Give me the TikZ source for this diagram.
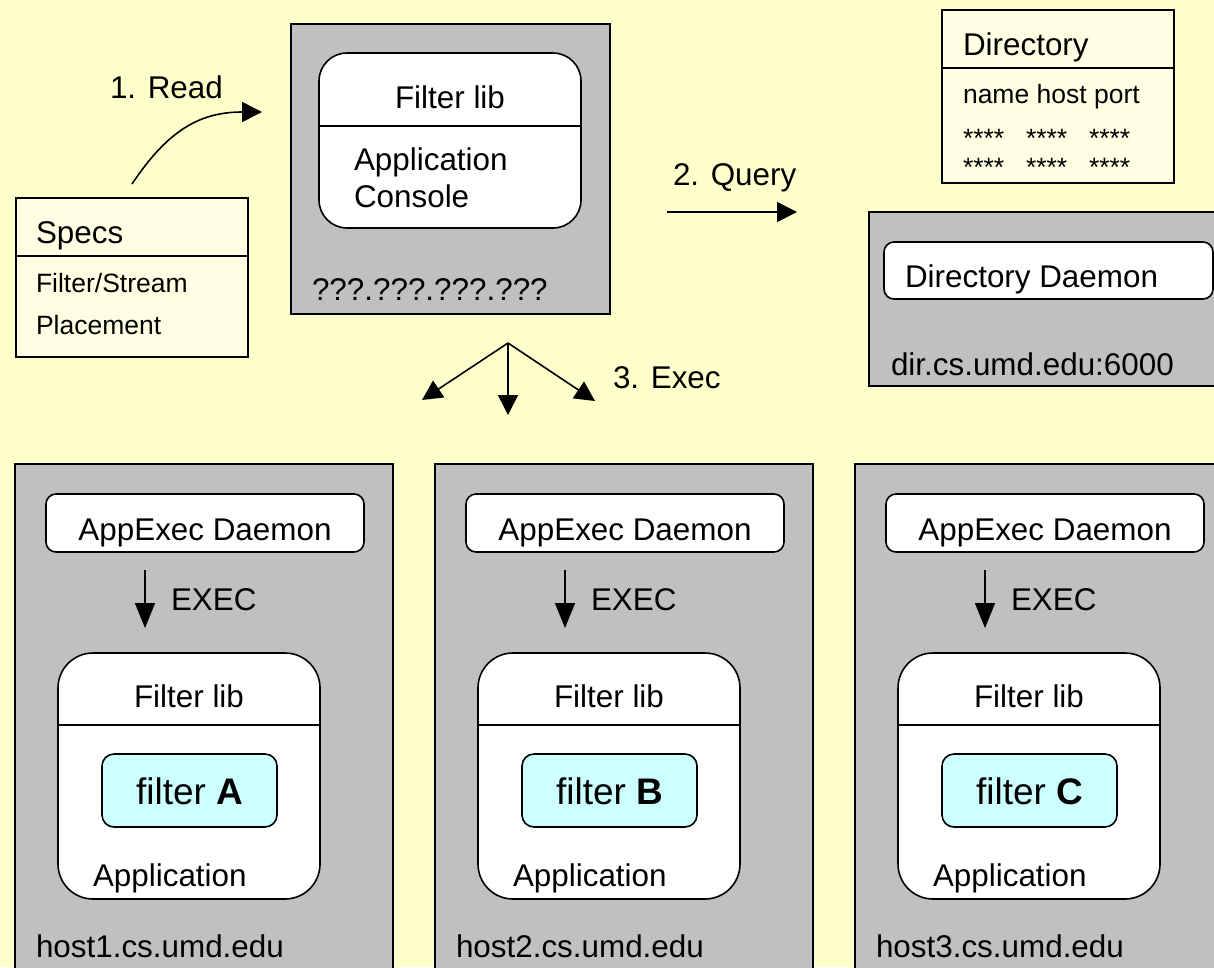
\documentclass[tikz,border=0pt]{standalone}
\usepackage{fontspec}
\setmainfont{Liberation Sans}
\usetikzlibrary{arrows.meta,calc}
\definecolor{paper}{HTML}{FFFFCC}
\definecolor{machine}{HTML}{C0C0C0}
\definecolor{sheet}{HTML}{FFFFE4}
\definecolor{filt}{HTML}{CCFFFF}
\tikzset{
  frame/.style={draw=black, line width=1.6pt, inner sep=0pt, outer sep=0pt, anchor=north west},
  hostbox/.style={frame, fill=machine},
  docbox/.style={frame, fill=sheet},
  softbox/.style={frame, fill=white, rounded corners=#1},
  softbox/.default=10pt,
  divider/.style={draw=black, line width=1.6pt},
  txt/.style={inner sep=0pt, outer sep=0pt, font=\fontsize{31.4}{37}\selectfont},
  small/.style={inner sep=0pt, outer sep=0pt, font=\fontsize{26.5}{30}\selectfont},
  big/.style={inner sep=0pt, outer sep=0pt, font=\fontsize{37}{42}\selectfont},
  arr/.style={line width=1.6pt, -{Triangle[length=20pt,width=20pt]}},
}
\begin{document}
\begin{tikzpicture}[x=1pt,y=-1pt]
\useasboundingbox (0,0) rectangle (1214,967);
\clip (0,0) rectangle (1214,967);
\fill[paper] (0,0) rectangle (1214,967);

% specification sheet
\node[docbox, minimum width=232, minimum height=159] (specs) at (16,198) {};
\draw[divider] ($(specs.north west)+(0,58)$) -- ($(specs.north east)+(0,58)$);
\node[txt, anchor=base west] (specstitle) at (36,243) {Specs};
\node[small, anchor=base west] (specsrow1) at (36,292) {Filter/Stream};
\node[small, anchor=base west] (specsrow2) at (36,334) {Placement};

% console machine
\node[hostbox, minimum width=319, minimum height=290] (console) at (291,24) {};
\node[softbox=28pt, minimum width=262, minimum height=175] (consolelib) at (319,53) {};
\draw[divider] ($(consolelib.north west)+(0,73)$) -- ($(consolelib.north east)+(0,73)$);
\node[txt, anchor=base] (consolelibtitle) at (450,108) {Filter lib};
\node[txt, anchor=base west] (consoleapp1) at (354,170) {Application};
\node[txt, anchor=base west] (consoleapp2) at (354,207) {Console};
\node[txt, anchor=base west] (consoleaddr) at (312,300) {???.???.???.???};

% step 1: read
\coordinate (readA) at (132,184);
\coordinate (readB) at (262,112);
\draw[arr] (readA) .. controls (168,130) and (200,112) .. (readB);
\node[txt, anchor=base west] (readlbl) at (110,98) {1. Read};

% step 2: query
\coordinate (queryA) at (667,212);
\coordinate (queryB) at (797,212);
\draw[arr] (queryA) -- (queryB);
\node[txt, anchor=base west] (querylbl) at (673,185) {2. Query};

% directory table
\node[docbox, minimum width=232, minimum height=173] (dirtable) at (942,10) {};
\draw[divider] ($(dirtable.north west)+(0,58)$) -- ($(dirtable.north east)+(0,58)$);
\node[txt, anchor=base west] (dirtitle) at (963,55) {Directory};
\node[small, anchor=base west] (dirhead) at (963,103) {name host port};
\foreach \row/\yy in {1/147,2/176}{
  \foreach \col/\xx in {1/963,2/1026,3/1089}{
    \node[small, anchor=base west] (dircell\row\col) at (\xx,\yy) {****};
  }
}

% directory machine
\node[hostbox, minimum width=370, minimum height=174] (dirhost) at (869,212) {};
\node[softbox, minimum width=329, minimum height=57] (dirdaemon) at (884,242) {};
\node[txt, anchor=base west] (dirdaemonlbl) at (905,287) {Directory Daemon};
\node[txt, anchor=base west] (diraddr) at (891,375) {dir.cs.umd.edu:6000};

% step 3: exec fan-out
\coordinate (fan) at (508,343);
\coordinate (fanL) at (422,400);
\coordinate (fanM) at (508,415);
\coordinate (fanR) at (595,401);
\draw[arr] (fan) -- (fanL);
\draw[arr] (fan) -- (fanM);
\draw[arr] (fan) -- (fanR);
\node[txt, anchor=base west] (execstep) at (613,388) {3. Exec};

% worker hosts
\foreach \n/\dx/\L in {1/0/A,2/420/B,3/840/C}{
  \begin{scope}[xshift=\dx pt]
    \node[hostbox, minimum width=378, minimum height=530] (host\n) at (15,464) {};
    \node[softbox, minimum width=318, minimum height=58] (appexec\n) at (46,494) {};
    \node[txt, anchor=base] (appexeclbl\n) at (205,540) {AppExec Daemon};
    \coordinate (execA\n) at (145,570);
    \coordinate (execB\n) at (145,628);
    \draw[arr, -{Triangle[length=25pt,width=20pt]}] (execA\n) -- (execB\n);
    \node[txt, anchor=base west] (execlbl\n) at (171,610) {EXEC};
    \node[softbox=35pt, minimum width=262, minimum height=246] (lib\n) at (58,653) {};
    \draw[divider] ($(lib\n.north west)+(0,72)$) -- ($(lib\n.north east)+(0,72)$);
    \node[txt, anchor=base] (libtitle\n) at (189,707) {Filter lib};
    \node[frame, fill=filt, rounded corners=12pt, minimum width=175, minimum height=73] (filter\n) at (102,754) {};
    \node[big, anchor=base] (filterlbl\n) at (189.5,804) {filter \textbf{\L}};
    \node[txt, anchor=base west] (applbl\n) at (93,886) {Application};
    \node[txt, anchor=base west] (hostlbl\n) at (36,957) {host\n.cs.umd.edu};
  \end{scope}
}
\end{tikzpicture}
\end{document}
